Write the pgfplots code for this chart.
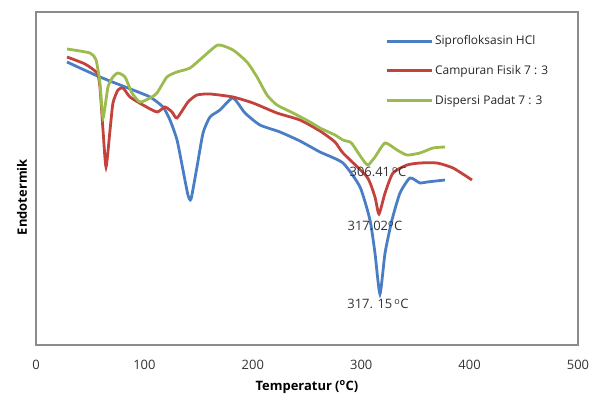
\documentclass[border=0pt]{standalone}
\usepackage{pgfplots}
\pgfplotsset{compat=1.18}
\usepackage{fontspec}
\setmainfont{Open Sans}
\definecolor{cblue}{HTML}{4A7EC4}
\definecolor{cred}{HTML}{C4423C}
\definecolor{cgreen}{HTML}{9BBB4C}
\begin{document}
\begin{tikzpicture}
\path[use as bounding box] (0,0) rectangle (596bp,398bp);
\begin{axis}[
  at={(36bp,53bp)}, anchor=south west,
  scale only axis, width=542bp, height=333bp,
  xmin=0, xmax=500, ymin=0, ymax=333,
  xtick={0,100,...,500}, ytick=\empty,
  major tick length=0pt,
  /pgf/number format/assume math mode=true,
  font=\fontsize{13}{16}\selectfont,
  xticklabel style={yshift=-12bp, text=black!80},
  axis line style={draw=black!45, line width=1.2pt},
  xlabel={\bfseries Temperatur (\textsuperscript{o}C)},
  xlabel style={at={(axis description cs:0.5,0)}, anchor=center, yshift=-42bp},
  ylabel={\bfseries Endotermik},
  ylabel style={at={(axis description cs:0,0.444)}, anchor=center, yshift=14bp},
  legend style={at={(rel axis cs:0.644,0.935)}, anchor=north west, draw=none, fill=none,
    font=\fontsize{12}{15}\selectfont, row sep=15bp, inner sep=0pt, text=black!85},
  legend cell align=left,
  legend image code/.code={\draw[#1, line width=3pt] (0bp,0bp) -- (31bp,0bp); \path (0bp,0bp) -- (45bp,0bp);},
  every axis plot/.append style={line width=2.8pt, smooth, tension=0.35},
]
\addplot[cblue] coordinates {
(28.6,283) (59.0,268) (89.5,255) (105.2,248) (117.2,238) (123.6,225) (130.1,205)
(135.6,175) (140.2,150) (143.0,146) (148.5,178) (154.1,212) (160.5,228) (169.7,235)
(181.7,247) (192.8,232) (206.6,220) (225.1,213) (243.5,204) (262.0,193) (283.2,182)
(298.9,158) (308.1,125) (312.7,92) (317.3,51) (322.0,92) (328.4,125) (335.8,152)
(345.0,167) (354.2,162) (360.7,163) (377.3,165)};
\addlegendentry{Siprofloksasin HCl}
\addplot[cred] coordinates {
(28.6,288) (45.2,281) (56.3,272) (59.0,258) (61.8,215) (64.6,178) (68.3,215)
(71.0,242) (75.6,255) (80.3,257) (86.7,248) (98.7,240) (111.6,233) (119.0,238)
(125.5,233) (130.1,227) (140.2,243) (148.5,250) (160.5,251) (181.7,248) (200.2,242)
(222.3,232) (243.5,225) (262.0,214) (275.8,203) (283.2,192) (305.4,168) (312.7,148)
(316.4,131) (322.0,152) (329.3,172) (342.3,180) (354.2,182) (369.9,182) (384.7,177)
(402.2,165)};
\addlegendentry{Campuran Fisik 7 : 3}
\addplot[cgreen] coordinates {
(28.6,296) (49.8,292) (55.4,285) (59.0,262) (61.8,227) (66.4,258) (71.0,268)
(75.6,272) (82.1,268) (88.6,252) (95.9,243) (105.2,247) (111.6,252) (120.8,268)
(130.1,273) (142.1,277) (154.1,288) (167.9,300) (181.7,295) (194.6,283) (203.9,268)
(213.1,250) (222.3,240) (237.1,232) (252.8,223) (262.0,217) (275.8,210) (283.2,205)
(289.7,203) (292.4,200) (301.7,185) (306.3,180) (312.7,188) (322.0,202) (333.0,195)
(342.3,190) (354.2,192) (366.2,197) (377.3,198)};
\addlegendentry{Dispersi Padat 7 : 3}
\node[text=black!80] at (axis cs:315.5,173) {306.41\,\textsuperscript{o}C};
\node[text=black!80] at (axis cs:312.7,119) {317.02\textsuperscript{o}C};
\node[text=black!80] at (axis cs:315.5,41) {317. 15\,\textsuperscript{o}C};
\end{axis}
\end{tikzpicture}
\end{document}
